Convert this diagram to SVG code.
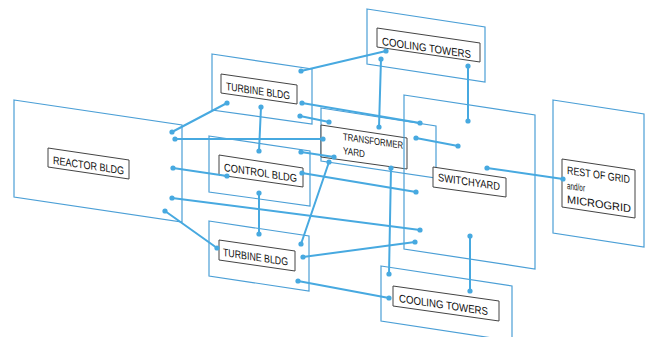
<svg xmlns="http://www.w3.org/2000/svg" width="645" height="337" viewBox="0 0 645 337">
<defs>
<style>
.panel{fill:none;stroke:#4b9fd6;stroke-width:1.2}
.label{fill:#fff;stroke:#444;stroke-width:1}
.t{font-family:"Liberation Sans",Arial,sans-serif;font-size:11px;fill:#111}
.c line{stroke:#47a9e0;stroke-width:2;stroke-linecap:round}
.c circle{fill:#47a9e0}
</style>
</defs>
<rect width="645" height="337" fill="#fff"/>
<g id="reactor">
<polygon class="panel" points="14,100 182,125 182,222 14,197"/>
<polygon class="label" points="48,148 129,160 129,179 48,167"/>
<text class="t" transform="translate(53,164) skewY(8.4)" textLength="71" lengthAdjust="spacingAndGlyphs">REACTOR BLDG</text>
</g>
<g id="turbine-top">
<polygon class="panel" points="212,54 312,69 312,124 212,110"/>
<polygon class="label" points="221,74 297,85 297,104 221,93"/>
<text class="t" transform="translate(226,90) skewY(8.4)" textLength="64" lengthAdjust="spacingAndGlyphs">TURBINE BLDG</text>
</g>
<g id="control">
<polygon class="panel" points="209,136 310,151 310,206 209,192"/>
<polygon class="label" points="219,155 303,168 303,187 219,175"/>
<text class="t" transform="translate(224,171) skewY(8.6)" textLength="73" lengthAdjust="spacingAndGlyphs">CONTROL BLDG</text>
</g>
<g id="turbine-bottom">
<polygon class="panel" points="209,221 309,236 309,291 209,276"/>
<polygon class="label" points="219,240 295,251 295,271 219,260"/>
<text class="t" transform="translate(223,256) skewY(8.4)" textLength="65" lengthAdjust="spacingAndGlyphs">TURBINE BLDG</text>
</g>
<g id="cooling-top">
<polygon class="panel" points="367,9 485,27 485,82 367,64"/>
<polygon class="label" points="377,28 480,43 480,62 377,47"/>
<text class="t" transform="translate(382,45) skewY(8.4)" textLength="89" lengthAdjust="spacingAndGlyphs">COOLING TOWERS</text>
</g>
<g id="transformer">
<polygon class="panel" points="321,108 436,126 436,178 321,161"/>
<polygon class="label" points="321,125 407,138 407,169 321,157"/>
<text class="t" style="font-size:10px" transform="translate(343,140) skewY(8.4)" textLength="60" lengthAdjust="spacingAndGlyphs">TRANSFORMER</text>
<text class="t" style="font-size:10px" transform="translate(343,154) skewY(8.4)" textLength="22" lengthAdjust="spacingAndGlyphs">YARD</text>
</g>
<g id="switchyard">
<polygon class="panel" points="404,95 535,115 535,269 404,249"/>
<polygon class="label" points="433,167 506,178 506,197 433,187"/>
<text class="t" transform="translate(438,181) skewY(8.4)" textLength="62" lengthAdjust="spacingAndGlyphs">SWITCHYARD</text>
</g>
<g id="grid">
<polygon class="panel" points="553,100 644,114 644,247 553,233"/>
<polygon class="label" points="562,159 635,170 635,218 562,207"/>
<text class="t" transform="translate(567,174) skewY(8.4)" textLength="63" lengthAdjust="spacingAndGlyphs">REST OF GRID</text>
<text class="t" style="font-size:10px" transform="translate(567,189) skewY(8.4)" textLength="18" lengthAdjust="spacingAndGlyphs">and/or</text>
<text class="t" transform="translate(567,203) skewY(8.4)" textLength="64" lengthAdjust="spacingAndGlyphs">MICROGRID</text>
</g>
<g id="cooling-bottom">
<polygon class="panel" points="381,266 512,286 512,341 381,321"/>
<polygon class="label" points="393,286 499,301 499,321 393,306"/>
<text class="t" transform="translate(399,302) skewY(8.4)" textLength="89" lengthAdjust="spacingAndGlyphs">COOLING TOWERS</text>
</g>
<g id="connectors" class="c">
<line x1="301" y1="71" x2="386" y2="51"/><circle cx="301" cy="71" r="2.6"/><circle cx="386" cy="51" r="2.6"/>
<line x1="381" y1="59" x2="379" y2="127"/><circle cx="381" cy="59" r="2.6"/><circle cx="379" cy="127" r="2.6"/>
<line x1="468" y1="66" x2="468" y2="121"/><circle cx="468" cy="66" r="2.6"/><circle cx="468" cy="121" r="2.6"/>
<line x1="172" y1="132" x2="227" y2="103"/><circle cx="172" cy="132" r="2.6"/><circle cx="227" cy="103" r="2.6"/>
<line x1="175" y1="139" x2="323" y2="139"/><circle cx="175" cy="139" r="2.6"/><circle cx="323" cy="139" r="2.6"/>
<line x1="173" y1="168" x2="227" y2="176"/><circle cx="173" cy="168" r="2.6"/><circle cx="227" cy="176" r="2.6"/>
<line x1="172" y1="198" x2="420" y2="230"/><circle cx="172" cy="198" r="2.6"/><circle cx="420" cy="230" r="2.6"/>
<line x1="165" y1="211" x2="217" y2="248"/><circle cx="165" cy="211" r="2.6"/><circle cx="217" cy="248" r="2.6"/>
<line x1="261" y1="107" x2="259" y2="151"/><circle cx="261" cy="107" r="2.6"/><circle cx="259" cy="151" r="2.6"/>
<line x1="302" y1="103" x2="420" y2="123"/><circle cx="302" cy="103" r="2.6"/><circle cx="420" cy="123" r="2.6"/>
<line x1="300" y1="116" x2="329" y2="122"/><circle cx="300" cy="116" r="2.6"/><circle cx="329" cy="122" r="2.6"/>
<line x1="416" y1="138" x2="458" y2="146"/><circle cx="416" cy="138" r="2.6"/><circle cx="458" cy="146" r="2.6"/>
<line x1="487" y1="168" x2="563" y2="179"/><circle cx="487" cy="168" r="2.6"/><circle cx="563" cy="179" r="2.6"/>
<line x1="301" y1="152" x2="334" y2="157"/><circle cx="301" cy="152" r="2.6"/><circle cx="334" cy="157" r="2.6"/>
<line x1="302" y1="173" x2="416" y2="192"/><circle cx="302" cy="173" r="2.6"/><circle cx="416" cy="192" r="2.6"/>
<line x1="259" y1="193" x2="259" y2="234"/><circle cx="259" cy="193" r="2.6"/><circle cx="259" cy="234" r="2.6"/>
<line x1="329" y1="162" x2="301" y2="244"/><circle cx="329" cy="162" r="2.6"/><circle cx="301" cy="244" r="2.6"/>
<line x1="303" y1="257" x2="415" y2="242"/><circle cx="303" cy="257" r="2.6"/><circle cx="415" cy="242" r="2.6"/>
<line x1="298" y1="281" x2="389" y2="298"/><circle cx="298" cy="281" r="2.6"/><circle cx="389" cy="298" r="2.6"/>
<line x1="391" y1="168" x2="389" y2="274"/><circle cx="391" cy="168" r="2.6"/><circle cx="389" cy="274" r="2.6"/>
<line x1="470" y1="236" x2="470" y2="291"/><circle cx="470" cy="236" r="2.6"/><circle cx="470" cy="291" r="2.6"/>
</g>
</svg>
